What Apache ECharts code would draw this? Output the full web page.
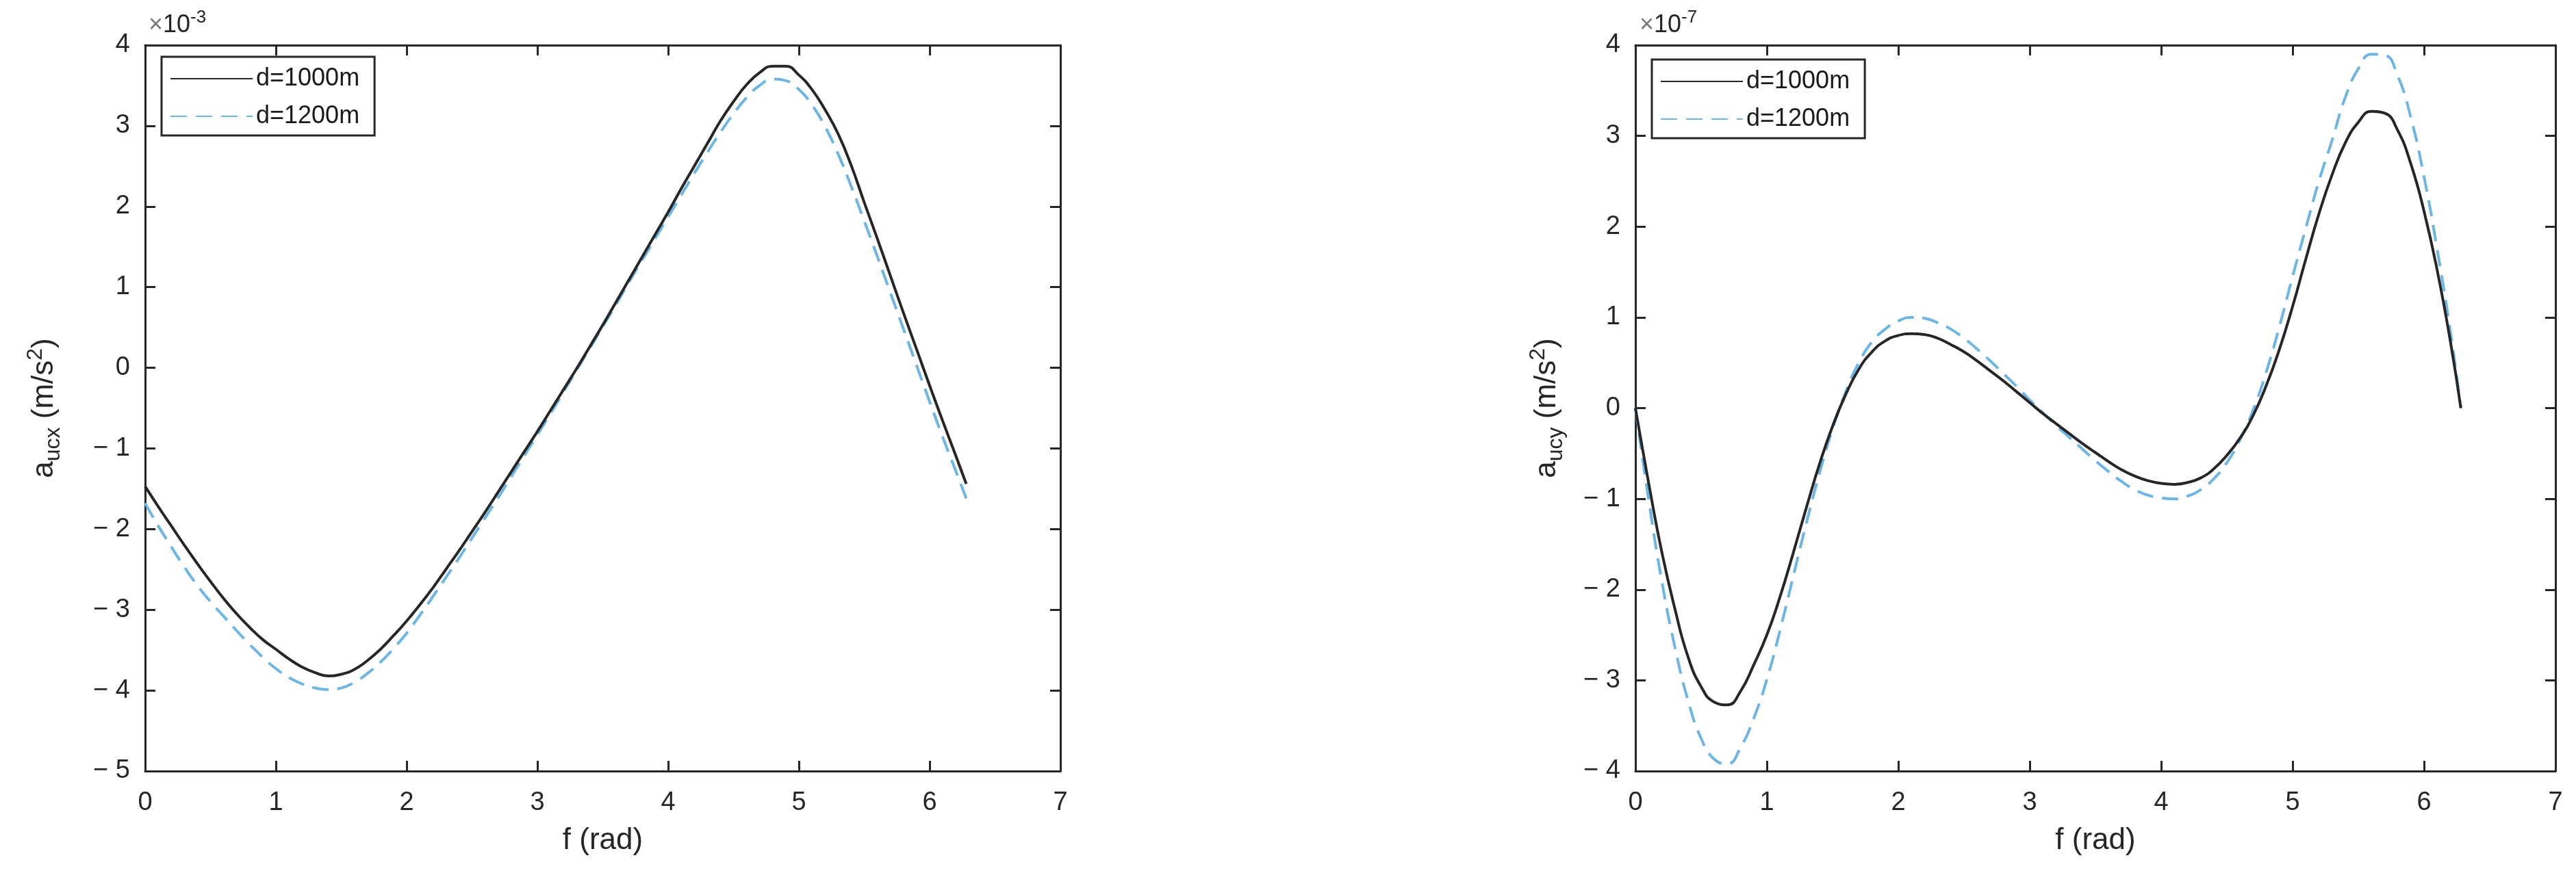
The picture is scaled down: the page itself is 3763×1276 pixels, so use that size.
<!DOCTYPE html>
<html><head><meta charset="utf-8">
<script src="https://cdn.jsdelivr.net/npm/echarts@6/dist/echarts.min.js"></script>
<style>html,body{margin:0;padding:0;background:#fff}#c{width:3763px;height:1276px}</style>
</head><body><div id="c"></div>
<script>
// f (rad) sample positions
const fVals = [0,0.1,0.2,0.3,0.4,0.5,0.6,0.7,0.8,0.9,1.0,1.1,1.2,1.3,1.4,1.5,1.6,1.7,1.8,1.9,2.0,2.1,2.2,2.3,2.4,2.5,2.6,2.7,2.8,2.9,3.0,3.1,3.2,3.3,3.4,3.5,3.6,3.7,3.8,3.9,4.0,4.1,4.2,4.3,4.4,4.5,4.6,4.7,4.8,4.9,5.0,5.1,5.2,5.3,5.4,5.5,5.6,5.7,5.8,5.9,6.0,6.1,6.2,6.28];
// a_ucx (x10^-3 m/s^2)
const aucx1000 = [-1.47,-1.72,-1.96,-2.2,-2.43,-2.65,-2.86,-3.05,-3.22,-3.37,-3.49,-3.61,-3.71,-3.78,-3.82,-3.8,-3.74,-3.63,-3.49,-3.32,-3.14,-2.94,-2.73,-2.5,-2.27,-2.03,-1.79,-1.54,-1.29,-1.04,-0.79,-0.53,-0.27,-0.01,0.26,0.53,0.81,1.09,1.37,1.65,1.93,2.22,2.5,2.78,3.06,3.3,3.51,3.66,3.74,3.74,3.63,3.45,3.2,2.9,2.51,2.05,1.6,1.14,0.68,0.23,-0.22,-0.66,-1.09,-1.44];
const aucx1200 = [-1.68,-1.96,-2.22,-2.47,-2.7,-2.9,-3.08,-3.26,-3.43,-3.59,-3.73,-3.84,-3.92,-3.97,-3.99,-3.97,-3.9,-3.79,-3.65,-3.48,-3.29,-3.07,-2.84,-2.6,-2.36,-2.11,-1.86,-1.61,-1.35,-1.09,-0.83,-0.57,-0.3,-0.03,0.24,0.51,0.78,1.06,1.33,1.6,1.87,2.14,2.41,2.67,2.92,3.15,3.35,3.5,3.58,3.56,3.45,3.26,2.99,2.65,2.25,1.82,1.38,0.93,0.48,0.03,-0.42,-0.86,-1.28,-1.62];
// a_ucy (x10^-7 m/s^2)
const aucy1000 = [0,-0.82,-1.58,-2.21,-2.74,-3.07,-3.24,-3.27,-3.12,-2.83,-2.5,-2.08,-1.6,-1.1,-0.62,-0.2,0.15,0.43,0.62,0.74,0.8,0.82,0.81,0.77,0.7,0.62,0.52,0.41,0.3,0.18,0.06,-0.06,-0.17,-0.28,-0.39,-0.49,-0.59,-0.68,-0.75,-0.8,-0.83,-0.84,-0.82,-0.77,-0.67,-0.52,-0.33,-0.08,0.25,0.65,1.12,1.64,2.14,2.57,2.92,3.15,3.27,3.25,3.06,2.69,2.17,1.52,0.74,0];
const aucy1200 = [0,-1.0,-1.9,-2.63,-3.22,-3.64,-3.87,-3.92,-3.74,-3.42,-2.99,-2.45,-1.86,-1.27,-0.72,-0.23,0.18,0.5,0.73,0.87,0.96,1.0,0.99,0.94,0.87,0.77,0.65,0.52,0.38,0.24,0.09,-0.05,-0.19,-0.32,-0.45,-0.58,-0.7,-0.81,-0.9,-0.96,-0.99,-1.0,-0.97,-0.9,-0.78,-0.6,-0.35,-0.02,0.4,0.9,1.45,1.98,2.5,2.95,3.42,3.74,3.9,3.89,3.66,3.2,2.55,1.75,0.85,0];
const seriesNames = ['d=1000m','d=1200m'];
const xTicks = {min:0, max:7, interval:1};
const yTicksL = {min:-5, max:4, interval:1};
const yTicksR = {min:-4, max:4, interval:1};
const exponents = ['-3','-7'];
const yNames = ['ucx','ucy'];

const FONT = '"Liberation Sans", Arial, sans-serif';
const TXT = '#262626';
const AX = '#262626';
const fmt = v => v < 0 ? '\u2212 ' + Math.abs(v) : String(v);
const pair = (xs, ys) => xs.map((x,i)=>[x, ys[i]]);

function axisBase(extra){
  return Object.assign({
    type:'value', splitLine:{show:false},
    axisLine:{show:true, onZero:false, lineStyle:{color:AX, width:3}},
    axisTick:{show:true, inside:true, length:15, lineStyle:{color:AX, width:3}},
  }, extra);
}
function xMain(g){return axisBase({gridIndex:g, position:'bottom', min:xTicks.min, max:xTicks.max, interval:xTicks.interval,
  axisLabel:{color:TXT, fontSize:38, fontFamily:FONT, margin:28},
  name:'f (rad)', nameLocation:'middle', nameGap:80, nameTextStyle:{color:TXT, fontSize:44, fontFamily:FONT}});}
function xTop(g){return axisBase({gridIndex:g, position:'top', min:xTicks.min, max:xTicks.max, interval:xTicks.interval, axisLabel:{show:false}});}
function yMain(g, t, sub, gap){return axisBase({gridIndex:g, position:'left', min:t.min, max:t.max, interval:t.interval,
  axisLabel:{color:TXT, fontSize:38, fontFamily:FONT, margin:22, formatter:fmt},
  name:'{n|a}{s|'+sub+'}{n| (m/s}{p|2}{n|)}', nameLocation:'middle', nameRotate:90, nameGap:gap,
  nameTextStyle:{color:TXT, fontFamily:FONT, rich:{
    n:{fontSize:44, lineHeight:58, color:TXT, fontFamily:FONT, verticalAlign:'middle'},
    s:{fontSize:32, lineHeight:32, color:TXT, fontFamily:FONT, verticalAlign:'bottom'},
    p:{fontSize:32, lineHeight:32, color:TXT, fontFamily:FONT, verticalAlign:'top'}
  }}});}
function yRight(g, t){return axisBase({gridIndex:g, position:'right', min:t.min, max:t.max, interval:t.interval, axisLabel:{show:false}});}

function legend(left, top){
  return {left:left, top:top, orient:'vertical', data:seriesNames,
    backgroundColor:'#fff', borderColor:'#262626', borderWidth:3, borderRadius:0,
    padding:[12,22,8,12], itemWidth:120, itemHeight:20, itemGap:15,
    itemStyle:{opacity:0},
    textStyle:{color:'#1a1a1a', fontSize:36, fontFamily:FONT, lineHeight:40},
    selectedMode:false};
}
function line(name, xi, yi, ys){
  const black = name === seriesNames[0];
  return {type:'line', name:name, xAxisIndex:xi, yAxisIndex:yi, data:pair(fVals, ys),
    smooth:true, symbol:'none', showSymbol:false, animation:false, z: black?3:2,
    lineStyle: black ? {color:'#262626', width:4, type:'solid'} : {color:'#6cb6e6', width:4, type:[24,13]},
    itemStyle:{color: black ? '#262626' : '#6cb6e6'}};
}
const expRich = {
  x:{fontSize:36, color:'#777', fontFamily:FONT, fontWeight:'normal', verticalAlign:'bottom', lineHeight:42},
  b:{fontSize:36, color:TXT, fontFamily:FONT, fontWeight:'normal', verticalAlign:'bottom', lineHeight:42},
  s:{fontSize:26, color:TXT, fontFamily:FONT, fontWeight:'normal', verticalAlign:'top', lineHeight:26}};

const option = {
  backgroundColor:'#fff', animation:false,
  grid:[{left:212, top:66, width:1337, height:1061}, {left:2389, top:66, width:1344, height:1061}],
  title:[
    {text:'{x|\u00d7}{b|10}{s|'+exponents[0]+'}', left:212, top:8, textStyle:{fontWeight:'normal', rich:expRich}},
    {text:'{x|\u00d7}{b|10}{s|'+exponents[1]+'}', left:2390, top:8, textStyle:{fontWeight:'normal', rich:expRich}}
  ],
  legend:[legend(236, 83), legend(2413, 87)],
  xAxis:[xMain(0), xTop(0), xMain(1), xTop(1)],
  yAxis:[yMain(0, yTicksL, yNames[0], 118), yRight(0, yTicksL), yMain(1, yTicksR, yNames[1], 100), yRight(1, yTicksR)],
  series:[
    line(seriesNames[0], 0, 0, aucx1000),
    line(seriesNames[1], 0, 0, aucx1200),
    line(seriesNames[0], 2, 2, aucy1000),
    line(seriesNames[1], 2, 2, aucy1200)
  ]
};
const chart = echarts.init(document.getElementById('c'), null, {renderer:'canvas'});
chart.setOption(option);
</script></body></html>
